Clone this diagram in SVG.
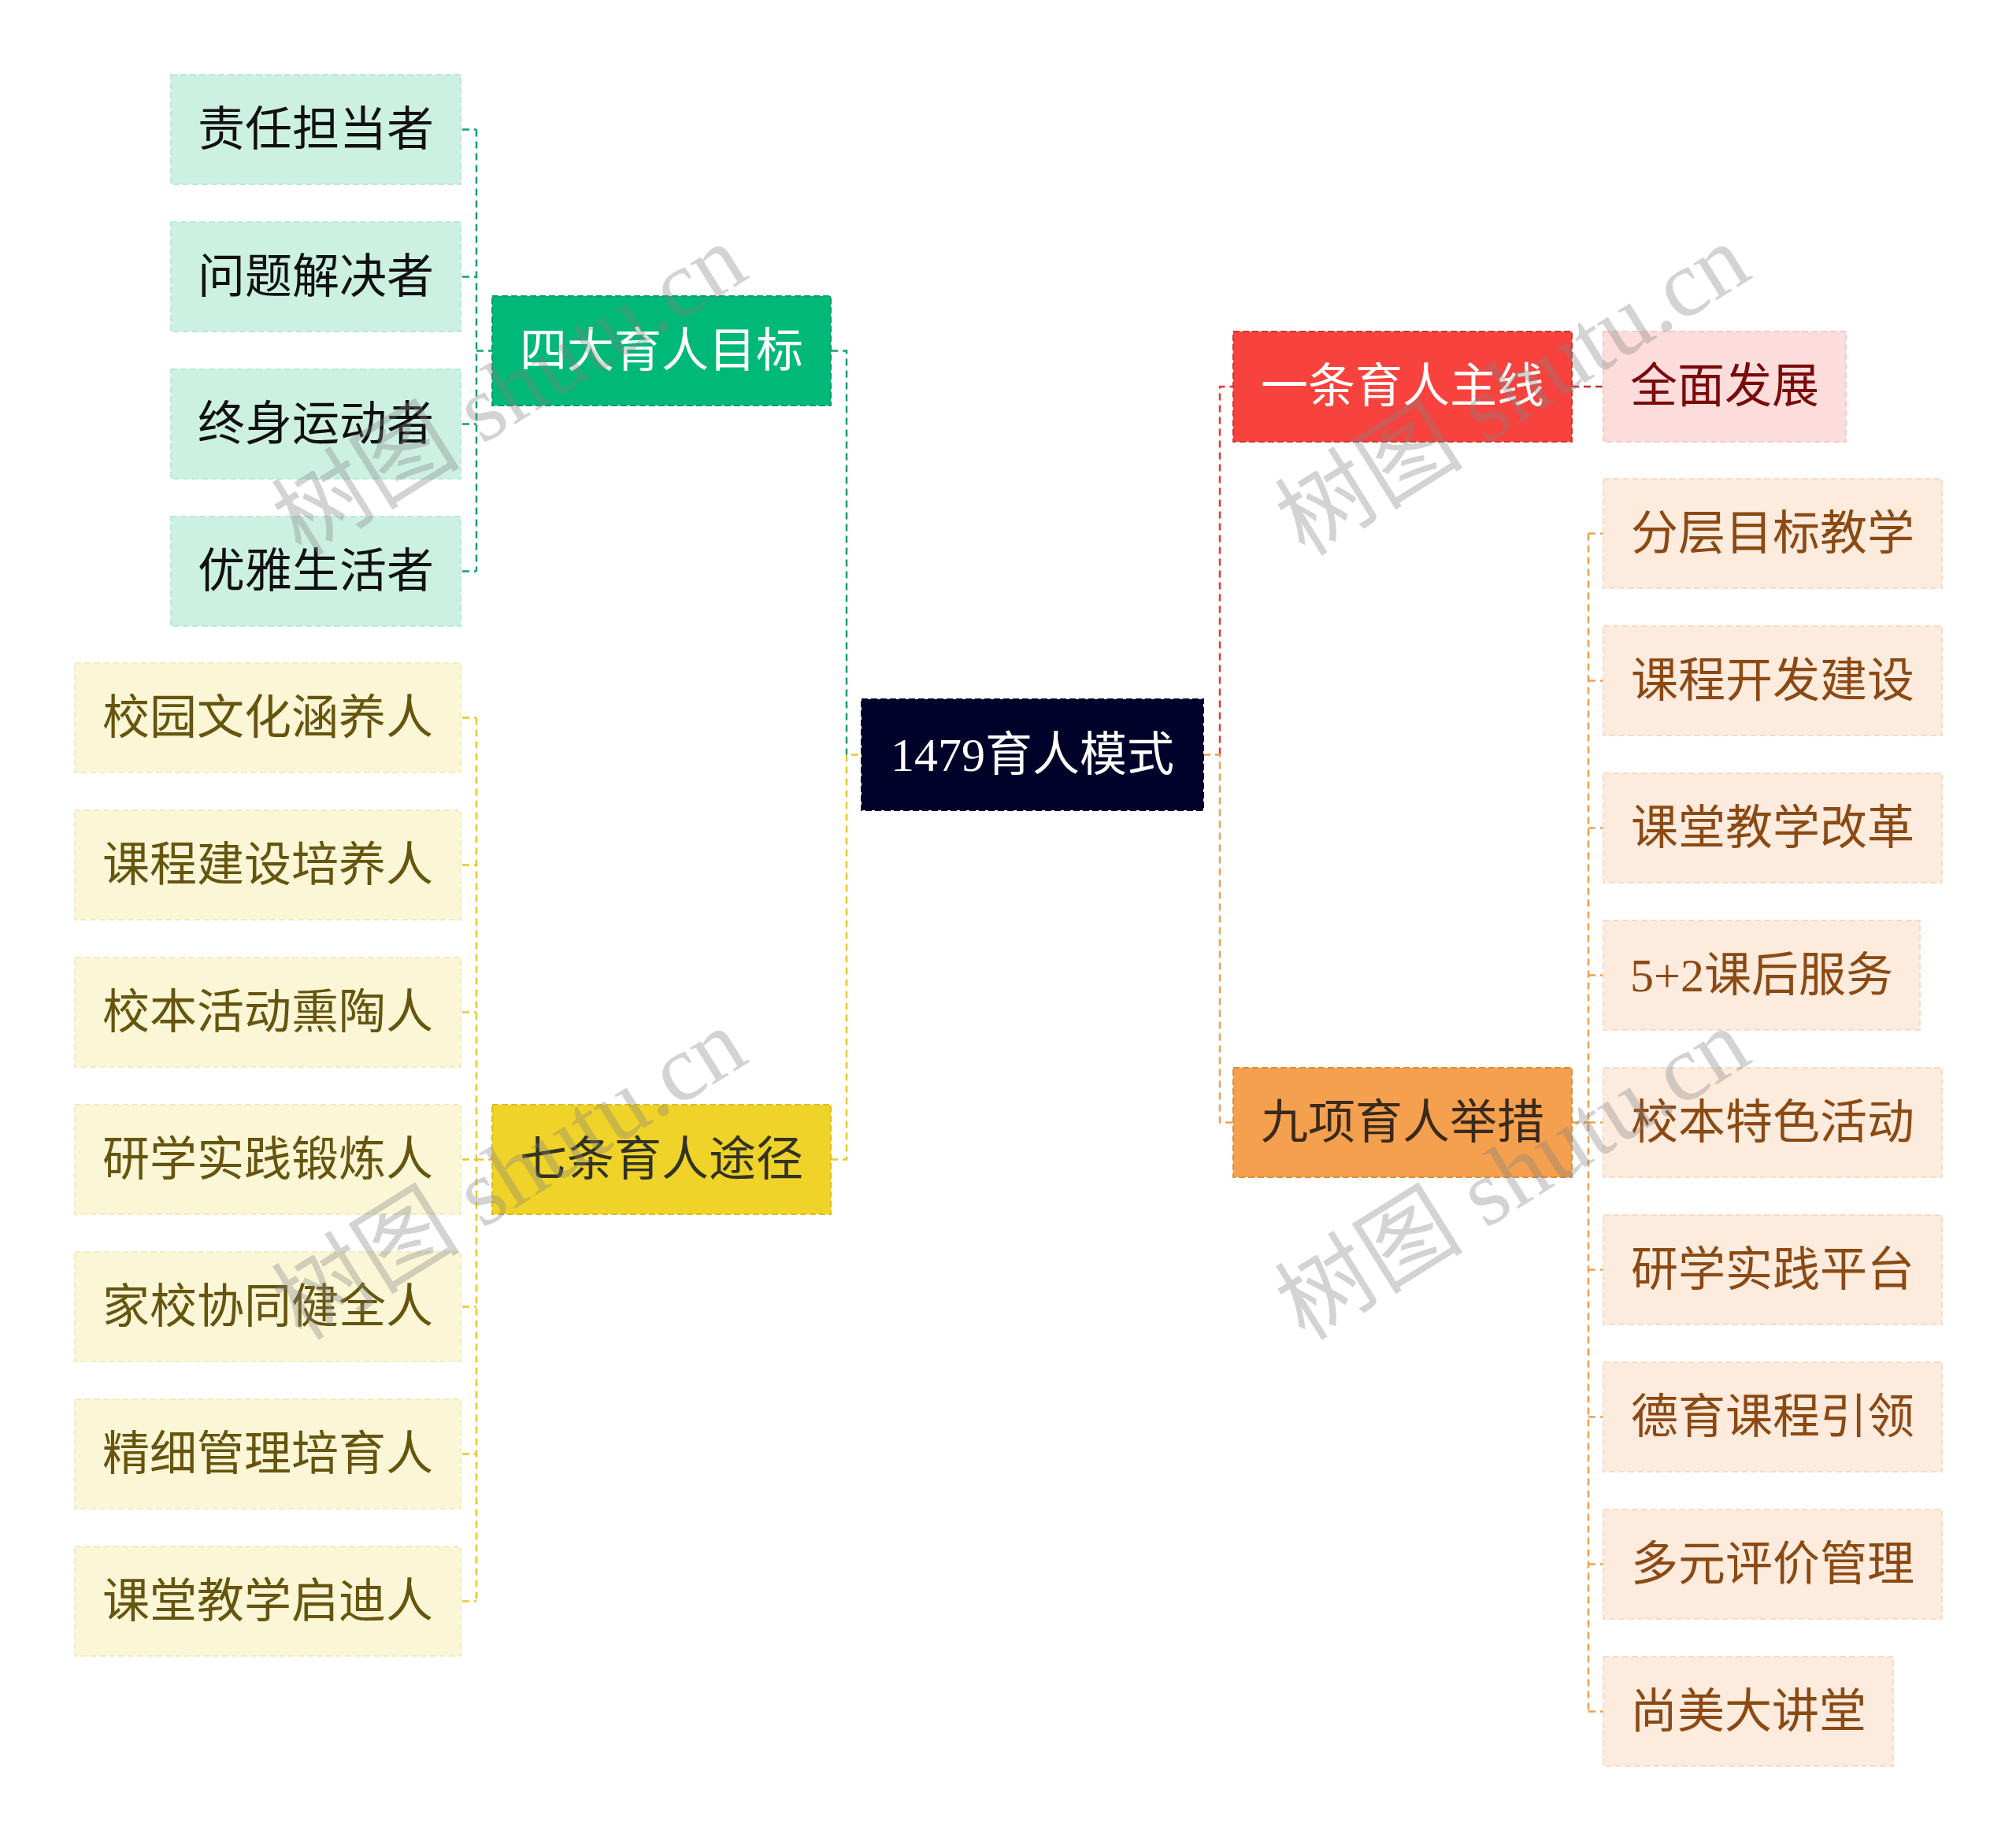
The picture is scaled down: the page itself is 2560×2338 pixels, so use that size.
<svg xmlns="http://www.w3.org/2000/svg" width="2560" height="2338" viewBox="0 0 2560 2338">
<style>
text{font-family:"Liberation Serif","Noto Sans CJK SC",serif;font-size:60px;text-anchor:middle;dominant-baseline:central}
.box{stroke-width:2;stroke-dasharray:8 4}
.central{fill:#000229;stroke:#000229}
.g1{fill:#00B878;stroke:#0A9E68}
.g2{fill:#CCF1E3;stroke:#BDE8D8}
.y1{fill:#F0D328;stroke:#DDBE1C}
.y2{fill:#FBF6D6;stroke:#F3ECC4}
.r1{fill:#F8423D;stroke:#D23530}
.r2{fill:#FDDCDC;stroke:#F5CACA}
.o1{fill:#F5A04F;stroke:#E08C3E}
.o2{fill:#FDEBDD;stroke:#F5DDCB}
.tw{fill:#FFFFFF}
.tk{fill:#111111}
.ty{fill:#66550F}
.ty1{fill:#333322}
.tr{fill:#7A0A0A}
.to1{fill:#3A2A1A}
.to{fill:#8B4A14}
.ln{fill:none;stroke-width:2.5;stroke-dasharray:9 6}
.lg{stroke:#13A070}
.ly{stroke:#E6C832}
.lr{stroke:#E23A36}
.lrd{stroke:#B8322F}
.lo{stroke:#EDA052}
.wm{font-size:120px;fill:#808080;fill-opacity:0.35;text-anchor:start;dominant-baseline:alphabetic}
</style>
<rect width="2560" height="2338" fill="#FFFFFF"/>
<g id="connectors">
<path class="ln lg" d="M605,164.5V725.5M587,164.5H605M587,351.5H605M587,538.5H605M587,725.5H605M605,445.5H625"/>
<path class="ln lg" d="M1055,445.5H1075V958.5"/>
<path class="ln ly" d="M605,911.5V2033.5M587,911.5H605M587,1098.5H605M587,1285.5H605M587,1472.5H605M587,1659.5H605M587,1846.5H605M587,2033.5H605M605,1472.5H625"/>
<path class="ln ly" d="M1055,1472.5H1075V958.5H1094"/>
<path class="ln lr" d="M1549,958.5V491H1566"/>
<path class="ln lrd" d="M1996,491H2036"/>
<path class="ln lo" d="M1528,958.5H1549V1425.5H1566"/>
<path class="ln lo" d="M1996,1425.5H2017M2017,677.5V2173.5M2017,677.5H2036M2017,864.5H2036M2017,1051.5H2036M2017,1238.5H2036M2017,1425.5H2036M2017,1612.5H2036M2017,1799.5H2036M2017,1986.5H2036M2017,2173.5H2036"/>
</g>
<g id="n-root"><rect class="box central" x="1094" y="888" width="434" height="141"/><text class="tw" x="1311" y="958.5">1479育人模式</text></g>
<g id="n-sida"><rect class="box g1" x="625" y="376" width="430" height="139"/><text class="tw" x="840" y="445.5">四大育人目标</text></g>
<g id="n-g1"><rect class="box g2" x="217" y="95" width="368" height="139"/><text class="tk" x="401" y="164.5">责任担当者</text></g>
<g id="n-g2"><rect class="box g2" x="217" y="282" width="368" height="139"/><text class="tk" x="401" y="351.5">问题解决者</text></g>
<g id="n-g3"><rect class="box g2" x="217" y="469" width="368" height="139"/><text class="tk" x="401" y="538.5">终身运动者</text></g>
<g id="n-g4"><rect class="box g2" x="217" y="656" width="368" height="139"/><text class="tk" x="401" y="725.5">优雅生活者</text></g>
<g id="n-qitiao"><rect class="box y1" x="625" y="1403" width="430" height="139"/><text class="ty1" x="840" y="1472.5">七条育人途径</text></g>
<g id="n-y1"><rect class="box y2" x="95" y="842" width="490" height="139"/><text class="ty" x="340" y="911.5">校园文化涵养人</text></g>
<g id="n-y2"><rect class="box y2" x="95" y="1029" width="490" height="139"/><text class="ty" x="340" y="1098.5">课程建设培养人</text></g>
<g id="n-y3"><rect class="box y2" x="95" y="1216" width="490" height="139"/><text class="ty" x="340" y="1285.5">校本活动熏陶人</text></g>
<g id="n-y4"><rect class="box y2" x="95" y="1403" width="490" height="139"/><text class="ty" x="340" y="1472.5">研学实践锻炼人</text></g>
<g id="n-y5"><rect class="box y2" x="95" y="1590" width="490" height="139"/><text class="ty" x="340" y="1659.5">家校协同健全人</text></g>
<g id="n-y6"><rect class="box y2" x="95" y="1777" width="490" height="139"/><text class="ty" x="340" y="1846.5">精细管理培育人</text></g>
<g id="n-y7"><rect class="box y2" x="95" y="1964" width="490" height="139"/><text class="ty" x="340" y="2033.5">课堂教学启迪人</text></g>
<g id="n-yitiao"><rect class="box r1" x="1566" y="421" width="430" height="140"/><text class="tw" x="1781" y="491">一条育人主线</text></g>
<g id="n-r1"><rect class="box r2" x="2036" y="421" width="308" height="140"/><text class="tr" x="2190" y="491">全面发展</text></g>
<g id="n-jiuxiang"><rect class="box o1" x="1566" y="1356" width="430" height="139"/><text class="to1" x="1781" y="1425.5">九项育人举措</text></g>
<g id="n-o1"><rect class="box o2" x="2036" y="608" width="430" height="139"/><text class="to" x="2251" y="677.5">分层目标教学</text></g>
<g id="n-o2"><rect class="box o2" x="2036" y="795" width="430" height="139"/><text class="to" x="2251" y="864.5">课程开发建设</text></g>
<g id="n-o3"><rect class="box o2" x="2036" y="982" width="430" height="139"/><text class="to" x="2251" y="1051.5">课堂教学改革</text></g>
<g id="n-o4"><rect class="box o2" x="2036" y="1169" width="402" height="139"/><text class="to" x="2237" y="1238.5">5+2课后服务</text></g>
<g id="n-o5"><rect class="box o2" x="2036" y="1356" width="430" height="139"/><text class="to" x="2251" y="1425.5">校本特色活动</text></g>
<g id="n-o6"><rect class="box o2" x="2036" y="1543" width="430" height="139"/><text class="to" x="2251" y="1612.5">研学实践平台</text></g>
<g id="n-o7"><rect class="box o2" x="2036" y="1730" width="430" height="139"/><text class="to" x="2251" y="1799.5">德育课程引领</text></g>
<g id="n-o8"><rect class="box o2" x="2036" y="1917" width="430" height="139"/><text class="to" x="2251" y="1986.5">多元评价管理</text></g>
<g id="n-o9"><rect class="box o2" x="2036" y="2104" width="368" height="139"/><text class="to" x="2220" y="2173.5">尚美大讲堂</text></g>
<g id="watermarks">
<text class="wm" transform="translate(383,708) rotate(-32)">树图 shutu.cn</text>
<text class="wm" transform="translate(1657,708) rotate(-32)">树图 shutu.cn</text>
<text class="wm" transform="translate(383,1704) rotate(-32)">树图 shutu.cn</text>
<text class="wm" transform="translate(1657,1704) rotate(-32)">树图 shutu.cn</text>
</g>
</svg>
